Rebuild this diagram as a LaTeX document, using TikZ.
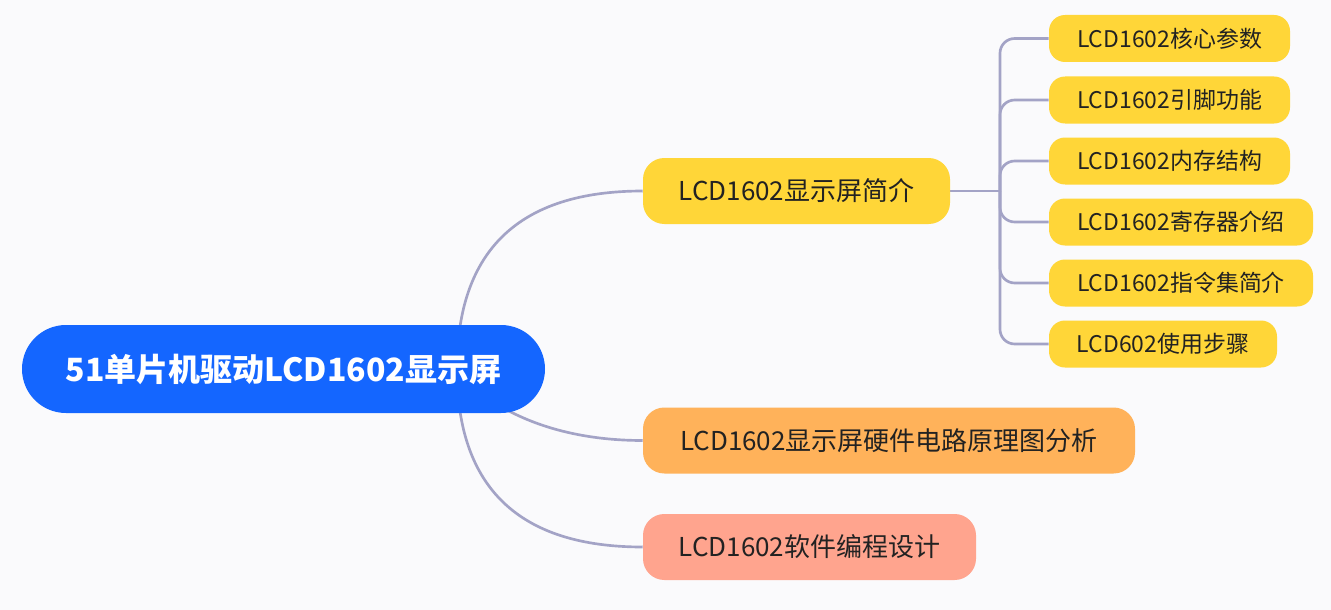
\documentclass[tikz,border=0pt]{standalone}
\usepackage{fontspec}
\setmainfont{Noto Sans CJK SC}
\usetikzlibrary{backgrounds}
\definecolor{bg}{RGB}{250,250,252}
\definecolor{rootblue}{RGB}{20,102,255}
\definecolor{yel}{RGB}{255,214,56}
\definecolor{ora}{RGB}{255,178,90}
\definecolor{sal}{RGB}{255,164,142}
\definecolor{linec}{RGB}{163,163,198}
\definecolor{txt}{RGB}{34,34,34}
\begin{document}
\begin{tikzpicture}[x=0.75pt,y=-0.75pt,
  rootbox/.style={fill=rootblue, text=white, rounded corners=33pt, minimum width=392.25pt, minimum height=66pt, inner sep=0pt, font=\fontsize{24}{28}\selectfont\bfseries},
  midbox/.style={rounded corners=16pt, minimum height=49.5pt, inner sep=0pt, text=txt, font=\fontsize{19.5}{23}\selectfont},
  leafbox/.style={fill=yel, rounded corners=12pt, minimum height=35.25pt, inner sep=0pt, text=txt, font=\fontsize{17.2}{20}\selectfont},
  conn/.style={draw=linec, line width=2pt}]
\useasboundingbox (0,0) rectangle (1331,610);

\node[rootbox] (root) at (283.5,369) {51单片机驱动LCD1602显示屏};
\node[midbox, fill=yel, minimum width=230.25pt] (intro) at (796.5,191) {LCD1602显示屏简介};
\node[midbox, fill=ora, minimum width=369pt] (hw) at (889,440.5) {LCD1602显示屏硬件电路原理图分析};
\node[midbox, fill=sal, minimum width=249.75pt] (sw) at (809.5,547) {LCD1602软件编程设计};

\node[leafbox, minimum width=180.75pt] (l1) at (1169.5,38.5) {LCD1602核心参数};
\node[leafbox, minimum width=180.75pt] (l2) at (1169.5,100) {LCD1602引脚功能};
\node[leafbox, minimum width=180.75pt] (l3) at (1169.5,161) {LCD1602内存结构};
\node[leafbox, minimum width=198pt] (l4) at (1181,222) {LCD1602寄存器介绍};
\node[leafbox, minimum width=198pt] (l5) at (1181,283) {LCD1602指令集简介};
\node[leafbox, minimum width=171pt] (l6) at (1163,344) {LCD602使用步骤};

\coordinate (rc) at (457,369);
\coordinate (tr) at (1000,191);

\begin{scope}[on background layer]
\fill[bg] (0,0) rectangle (1331,610);
\draw[conn] (rc) .. controls (457,250.3) and (519,191) .. (intro.west);
\draw[conn] (rc) .. controls (480,400) and (540,440.5) .. (hw.west);
\draw[conn] (rc) .. controls (457,487.7) and (519,547) .. (sw.west);
\draw[conn] (intro.east) -- (tr);
\foreach \l in {l1,l2,l3,l4,l5,l6}
  \draw[conn, rounded corners=11pt] (tr) |- (\l.west);
\end{scope}
\end{tikzpicture}
\end{document}
